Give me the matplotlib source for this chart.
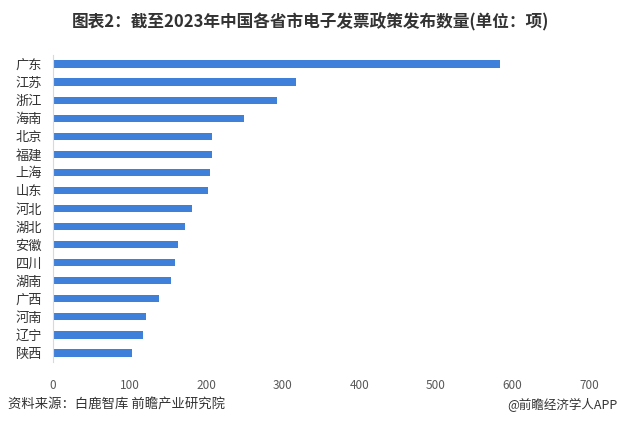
import matplotlib.pyplot as plt

plt.rcParams['font.family'] = ['Noto Sans CJK SC', 'DejaVu Sans']

provinces = ["广东", "江苏", "浙江", "海南", "北京", "福建", "上海", "山东", "河北",
             "湖北", "安徽", "四川", "湖南", "广西", "河南", "辽宁", "陕西"]
counts = [584, 317, 292, 250, 208, 207, 205, 203, 181,
          172, 163, 159, 154, 139, 122, 118, 103]
x_ticks = [0, 100, 200, 300, 400, 500, 600, 700]

fig = plt.figure(figsize=(6.2, 4.37), dpi=100)
ax = fig.add_axes([53 / 620, 1 - 362 / 437, 536 / 620, 307 / 437])

ax.barh(range(len(provinces)), counts, height=0.4, color="#3f80db")
ax.set_ylim(len(provinces) - 0.5, -0.5)
ax.set_xlim(0, 700)
ax.set_yticks(range(len(provinces)))
ax.set_yticklabels(provinces, fontsize=9.5, color="#333333")
ax.set_xticks(x_ticks)
ax.set_xticklabels([str(t) for t in x_ticks], fontsize=8.5, color="#595959")
ax.tick_params(axis="y", length=0, pad=8)
ax.tick_params(axis="x", length=0, pad=12)

for side in ["top", "right", "bottom"]:
    ax.spines[side].set_visible(False)
ax.spines["left"].set_color("#d9d9d9")
ax.spines["left"].set_linewidth(0.8)

fig.text(0.5, 1 - 22 / 437, "图表2：截至2023年中国各省市电子发票政策发布数量(单位：项)",
         ha="center", va="center", fontsize=12, fontweight="bold", color="#333333")
fig.text(8 / 620, 1 - 405 / 437, "资料来源：白鹿智库 前瞻产业研究院",
         ha="left", va="center", fontsize=9.6, color="#333333")
fig.text(618 / 620, 1 - 405 / 437, "@前瞻经济学人APP",
         ha="right", va="center", fontsize=9, color="#333333")

fig.savefig("out.png", dpi=100)
